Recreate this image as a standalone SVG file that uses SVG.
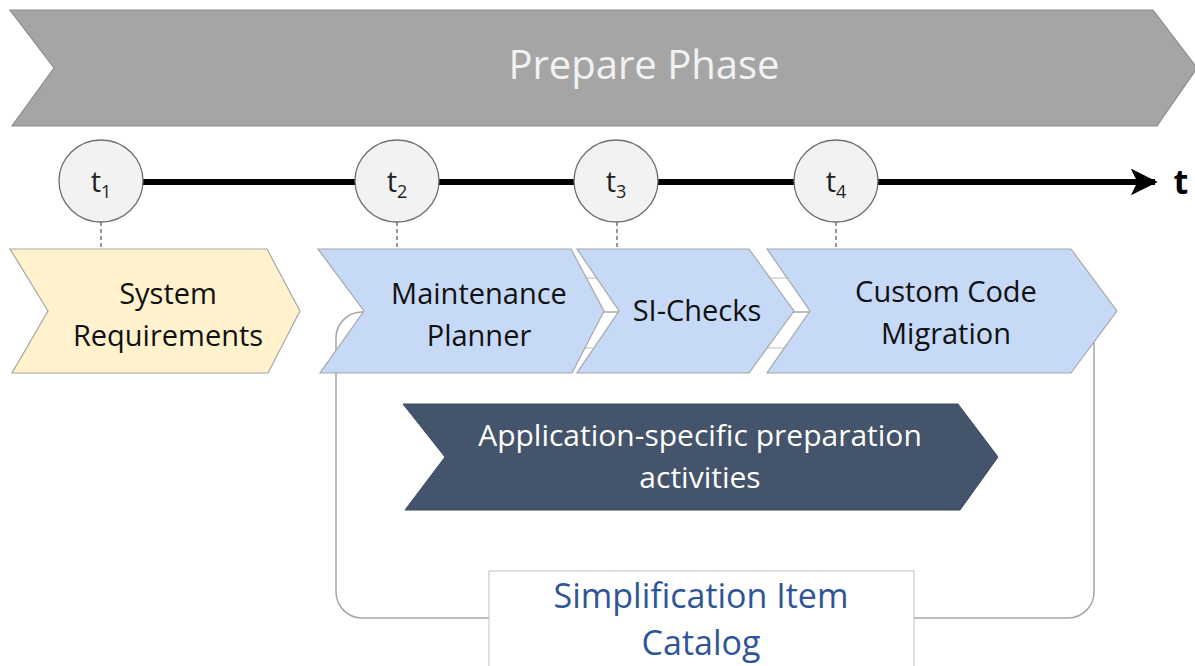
<svg xmlns="http://www.w3.org/2000/svg" width="1195" height="666" viewBox="0 0 1195 666">
<defs>
<style>
.lbl{font-family:"Open Sans","Noto Sans","Liberation Sans",sans-serif;text-anchor:middle}
.chev{stroke:#a6a6a6;stroke-width:1.2}
.blue{fill:#c6d9f7}
.circ{fill:#f2f2f2;stroke:#6f6f6f;stroke-width:1.3}
.dash{stroke:#333;stroke-width:1;stroke-dasharray:4 3}
.tick{stroke:#c8c8c8;stroke-width:1.2}
</style>
<marker id="arr" viewBox="0 0 10 10" refX="9" refY="5" markerWidth="4.5" markerHeight="4.5" orient="auto" markerUnits="strokeWidth">
<path d="M0,0 L10,5 L0,10 L2.5,5 Z" fill="#000"/>
</marker>
</defs>
<rect width="1195" height="666" fill="#fff"/>
<g id="phase">
<path d="M10,10 L1153,10 L1197,68 L1157,126 L12,126 L54,68 Z" fill="#a5a5a5" stroke="#8c8c8c" stroke-width="1.2"/>
<text class="lbl" x="644" y="79" font-size="40" fill="#f2f2f2">Prepare Phase</text>
</g>
<g id="catalog-frame">
<rect x="336" y="312" width="758" height="306" rx="26" fill="none" stroke="#a6a6a6" stroke-width="1.5"/>
</g>
<g id="connectors">
<line x1="142" y1="182" x2="1155" y2="182" stroke="#000" stroke-width="6" marker-end="url(#arr)"/>
<line class="dash" x1="101" y1="222" x2="101" y2="249"/>
<line class="dash" x1="397" y1="222" x2="397" y2="249"/>
<line class="dash" x1="617" y1="222" x2="617" y2="249"/>
<line class="dash" x1="836" y1="222" x2="836" y2="249"/>
</g>
<text class="lbl" x="1181" y="194" font-size="34" font-weight="bold" fill="#000">t</text>
<g id="t1"><ellipse class="circ" cx="101" cy="181" rx="42" ry="41"/><text class="lbl" x="101" y="192" font-size="29" fill="#222">t<tspan font-size="18" dy="6">1</tspan></text></g>
<g id="t2"><ellipse class="circ" cx="397" cy="181" rx="42" ry="41"/><text class="lbl" x="397" y="192" font-size="29" fill="#222">t<tspan font-size="18" dy="6">2</tspan></text></g>
<g id="t3"><ellipse class="circ" cx="616" cy="181" rx="42" ry="41"/><text class="lbl" x="616" y="192" font-size="29" fill="#222">t<tspan font-size="18" dy="6">3</tspan></text></g>
<g id="t4"><ellipse class="circ" cx="836" cy="181" rx="42" ry="41"/><text class="lbl" x="836" y="192" font-size="29" fill="#222">t<tspan font-size="18" dy="6">4</tspan></text></g>
<g id="system-requirements">
<path class="chev" d="M10,249 L267,249 L300,311 L268,373 L12,373 L48,311 Z" fill="#fff2cc"/>
<text class="lbl" x="168" y="304" font-size="29" fill="#111">System</text>
<text class="lbl" x="168" y="346" font-size="29" fill="#111">Requirements</text>
</g>
<g id="gaps">
<line class="tick" x1="586" y1="278" x2="597" y2="278"/>
<line class="tick" x1="585" y1="348" x2="594" y2="348"/>
<line class="tick" x1="764" y1="278" x2="787" y2="278"/>
<line class="tick" x1="766" y1="348" x2="787" y2="348"/>
</g>
<g id="maintenance-planner">
<path class="chev blue" d="M318,249 L571,249 L604,311 L572,373 L320,373 L364,311 Z"/>
<text class="lbl" x="479" y="304" font-size="29" fill="#111">Maintenance</text>
<text class="lbl" x="479" y="346" font-size="29" fill="#111">Planner</text>
</g>
<g id="si-checks">
<path class="chev blue" d="M577,249 L749,249 L794,311 L749,373 L577,373 L619,311 Z"/>
<text class="lbl" x="697" y="321" font-size="29" fill="#111">SI-Checks</text>
</g>
<g id="custom-code-migration">
<path class="chev blue" d="M767,249 L1071,249 L1117,311 L1071,373 L767,373 L810,311 Z"/>
<text class="lbl" x="946" y="302" font-size="29" fill="#111">Custom Code</text>
<text class="lbl" x="946" y="344" font-size="29" fill="#111">Migration</text>
</g>
<g id="application-specific">
<path d="M403,404 L958,404 L998,457 L960,510 L405,510 L445,457 Z" fill="#44546a" stroke="#3a4859" stroke-width="1"/>
<text class="lbl" x="700" y="446" font-size="30" fill="#fff">Application-specific preparation</text>
<text class="lbl" x="700" y="488" font-size="30" fill="#fff">activities</text>
</g>
<g id="simplification-item-catalog">
<rect x="489" y="571" width="425" height="110" fill="#fff" stroke="#bfbfbf" stroke-width="1"/>
<text class="lbl" x="701" y="608" font-size="34" fill="#2f5597">Simplification Item</text>
<text class="lbl" x="701" y="655" font-size="34" fill="#2f5597">Catalog</text>
</g>
</svg>
